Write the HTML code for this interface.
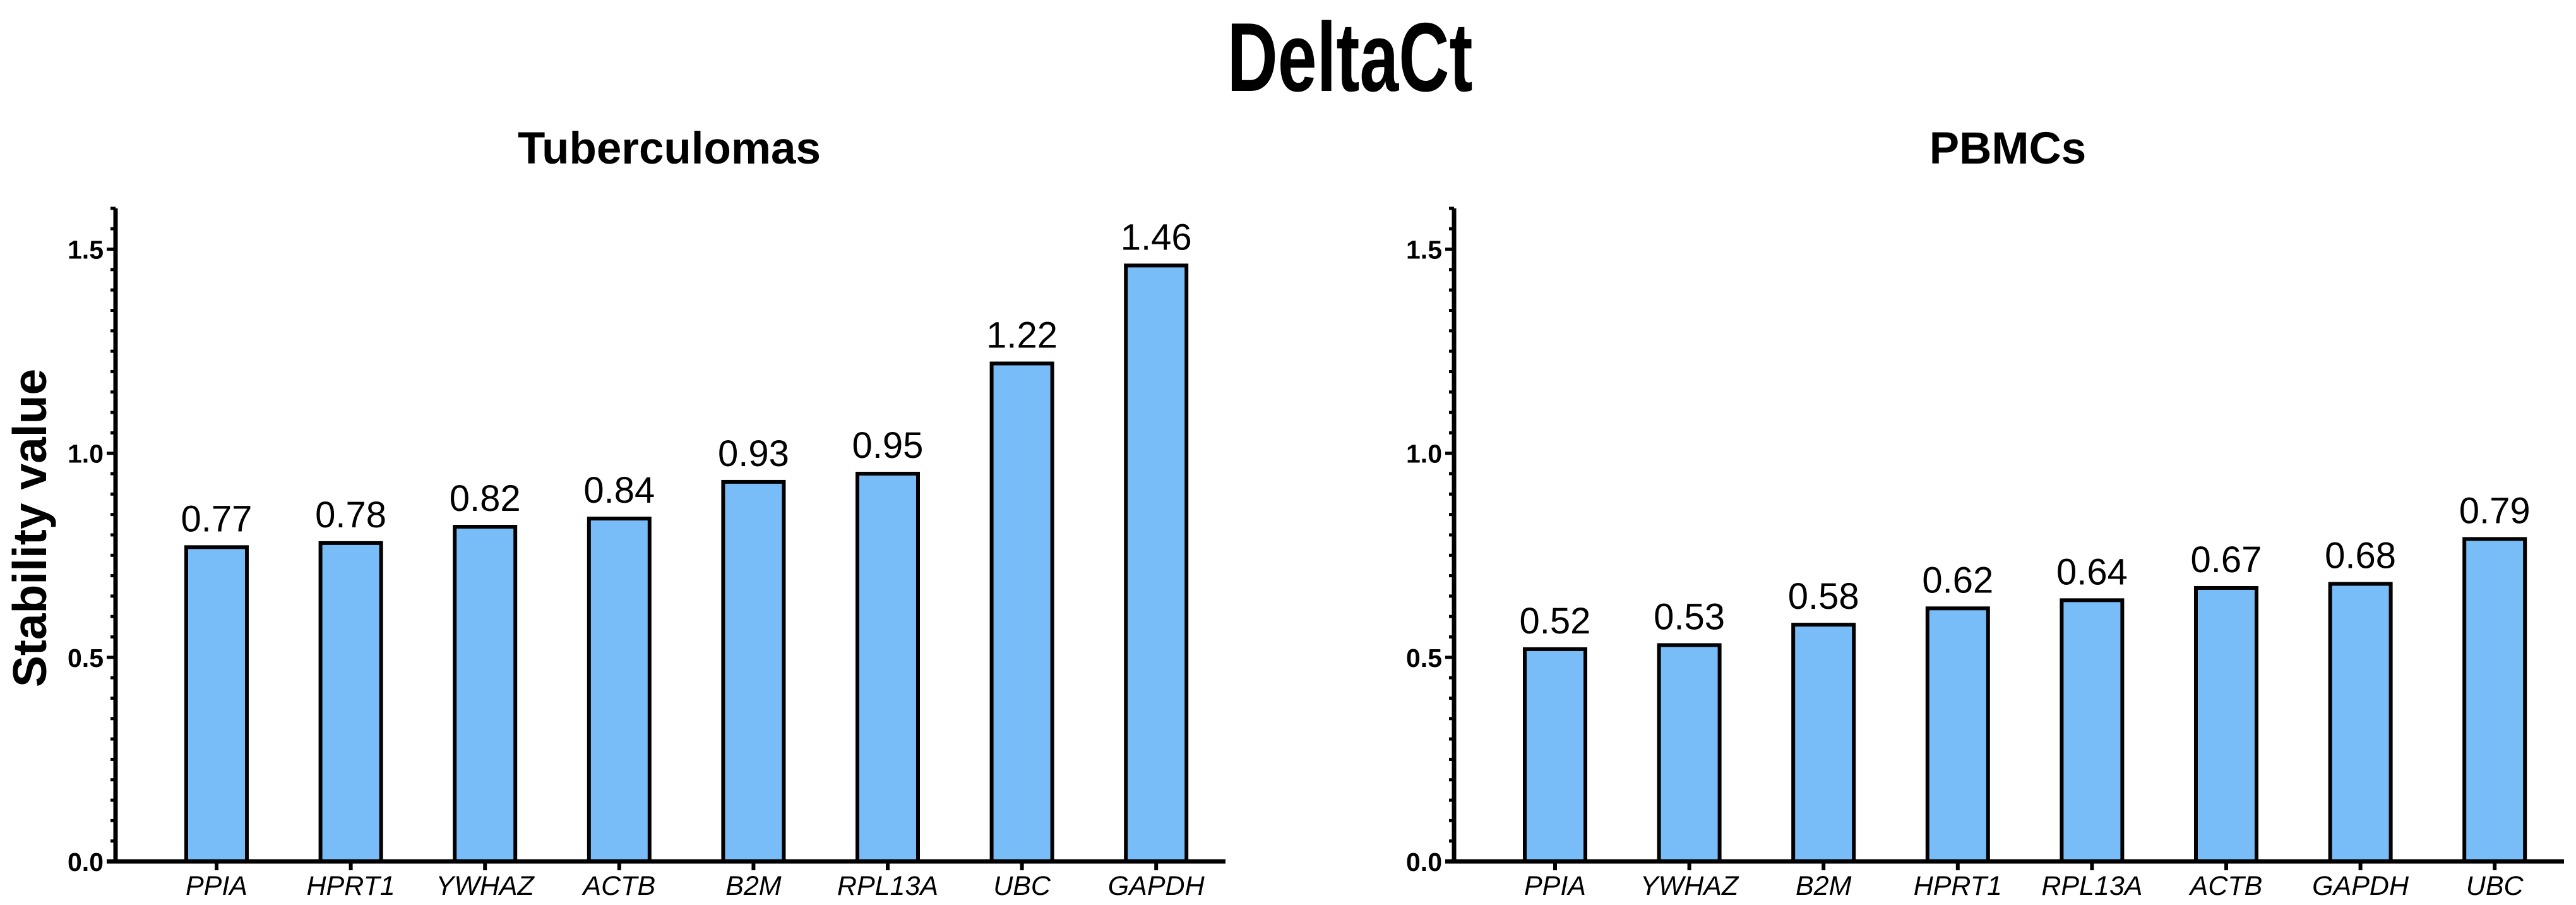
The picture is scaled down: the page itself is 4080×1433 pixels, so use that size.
<!DOCTYPE html>
<html><head><meta charset="utf-8"><style>
html,body{margin:0;padding:0;background:#fff;width:4080px;height:1433px;overflow:hidden}
text{font-family:"Liberation Sans",Arial,sans-serif}
</style></head><body>
<svg id="chart" width="4080" height="1433" viewBox="0 0 4080 1433" xmlns="http://www.w3.org/2000/svg">
<text x="2138" y="144" font-size="155" font-weight="bold" text-anchor="middle" textLength="389" lengthAdjust="spacingAndGlyphs">DeltaCt</text>
<text transform="translate(73,836) rotate(-90)" font-size="75" font-weight="bold" text-anchor="middle">Stability value</text>
</svg>
<script>
const tubCategories = ["PPIA","HPRT1","YWHAZ","ACTB","B2M","RPL13A","UBC","GAPDH"];
const tubValues = [0.77,0.78,0.82,0.84,0.93,0.95,1.22,1.46];
const pbCategories = ["PPIA","YWHAZ","B2M","HPRT1","RPL13A","ACTB","GAPDH","UBC"];
const pbValues = [0.52,0.53,0.58,0.62,0.64,0.67,0.68,0.79];
const yTickValues = [0,0.5,1.0,1.5];
const yTickLabels = ["0.0","0.5","1.0","1.5"];
const panelTitles = ["Tuberculomas","PBMCs"];

const NS="http://www.w3.org/2000/svg";
const svg=document.getElementById('chart');
function mk(tag,attrs,parent){const e=document.createElementNS(NS,tag);for(const k in attrs)e.setAttribute(k,attrs[k]);(parent||svg).appendChild(e);return e;}

const Y0=1364, PXU=646.3, YMAX=1.6;
function yScale(v){return Y0-v*PXU;}

function panel(ax, title, cats, vals, key){
  const g=mk('g',{});
  
  
  const axEnd=ax+1758, step=212.6, first=ax+160;
  function xScale(i){return first+i*step;}
  const t=mk('text',{x:ax+877,y:259,'font-size':71,'font-weight':'bold','text-anchor':'middle'},g);
  t.textContent=title;
  
  
  // bars
  vals.forEach((v,i)=>{
    const cx=xScale(i), w=96;
    const r=mk('rect',{x:cx-w/2,y:yScale(v),width:w,height:Y0-yScale(v),fill:'#79bdf8',stroke:'#000','stroke-width':6},g);
    
    
    const lb=mk('text',{x:cx,y:yScale(v)-25,'font-size':58,'text-anchor':'middle'},g);
    lb.textContent=v.toFixed(2);
    
    
    mk('line',{x1:cx,y1:Y0,x2:cx,y2:Y0+14,stroke:'#000','stroke-width':6},g);
    const cl=mk('text',{x:cx,y:1417,'font-size':43,'font-style':'italic','text-anchor':'middle'},g);
    cl.textContent=cats[i];
    
    
  });
  // minor ticks
  for(let k=1;k<=32;k++){
    const v=k*0.05; if(Math.abs(v*2-Math.round(v*2))<1e-6) continue;
    const y=yScale(v); mk('line',{x1:ax-8,y1:y,x2:ax,y2:y,stroke:'#000','stroke-width':5},g);
  }
  // major ticks
  yTickValues.forEach((v,i)=>{
    const y=yScale(v);
    mk('line',{x1:ax-14,y1:y,x2:ax,y2:y,stroke:'#000','stroke-width':5},g);
    const tl=mk('text',{x:ax-19,y:y+15,'font-size':41,'font-weight':'bold','text-anchor':'end'},g);
    tl.textContent=yTickLabels[i];
    
    
  });
  const ya=mk('line',{x1:ax,y1:yScale(YMAX),x2:ax,y2:Y0+3,stroke:'#000','stroke-width':7},g);
  
  
  const xa=mk('line',{x1:ax-14,y1:Y0,x2:axEnd,y2:Y0,stroke:'#000','stroke-width':7},g);
  
  
}
panel(183, panelTitles[0], tubCategories, tubValues, 'tuberculomas');
panel(2303, panelTitles[1], pbCategories, pbValues, 'pbmcs');
</script>
</body></html>
